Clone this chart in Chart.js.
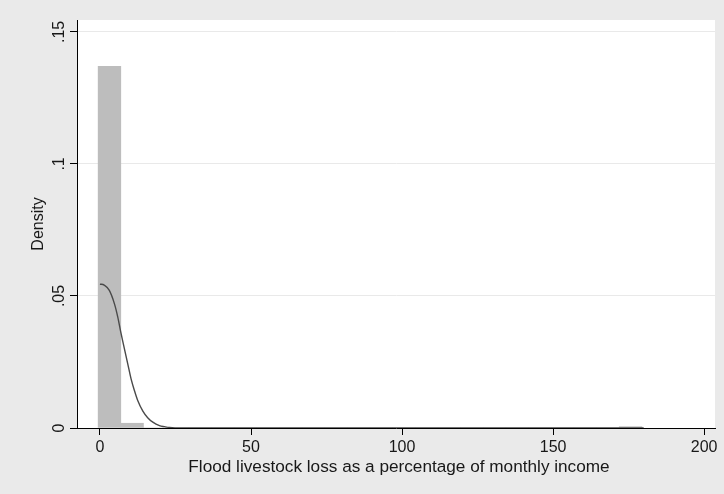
<!DOCTYPE html>
<html>
<head>
<meta charset="utf-8">
<script src="https://cdn.jsdelivr.net/npm/chart.js@4.4.1/dist/chart.umd.min.js"></script>
<style>
  html, body { margin: 0; padding: 0; background: #eaeaea; }
  #wrap { width: 724px; height: 494px; }
</style>
</head>
<body>
<div id="wrap"><canvas id="c" width="724" height="494"></canvas></div>
<script>
// ---- Data ----
const binCenters = [3.15, 10.65, 18.15, 25.65, 33.15, 40.65, 48.15, 55.65, 63.15, 70.65, 78.15, 85.65,
                    93.15, 100.65, 108.15, 115.65, 123.15, 130.65, 138.15, 145.65, 153.15, 160.65, 168.15, 175.65];
const binDensity = [0.137, 0.0018, 0, 0, 0, 0, 0, 0, 0, 0, 0, 0,
                    0, 0, 0, 0, 0, 0, 0, 0, 0, 0, 0, 0.0005];
const kdX = [0, 1.4, 3.1, 4.8, 5.9, 7.0, 8.1, 9.2, 10.3, 11.4, 12.5, 14.2, 15.8, 17.5, 19.7, 21.4, 23.0, 27, 40, 180];
const kdY = [0.0545, 0.0541, 0.0521, 0.0470, 0.0420, 0.0357, 0.0300, 0.0243, 0.0186, 0.0142, 0.0104, 0.0064,
             0.0039, 0.0022, 0.0009, 0.0005, 0.0002, 0, 0, 0];
const xTicks = [0, 50, 100, 150, 200];
const xTickLabels = ['0', '50', '100', '150', '200'];
const yTicks = [0, 0.05, 0.1, 0.15];
const yTickLabels = ['0', '.05', '.1', '.15'];
const xTitle = 'Flood livestock loss as a percentage of monthly income';
const yTitle = 'Density';

const TICK_FONT = '16px "Liberation Sans", Arial, sans-serif';
const TITLE_FONT = '17.2px "Liberation Sans", Arial, sans-serif';
const YTITLE_FONT = '16px "Liberation Sans", Arial, sans-serif';
const TEXT = '#181818';

const bgPlugin = {
  id: 'bg',
  beforeDraw(chart) {
    const { ctx, chartArea: a } = chart;
    ctx.save();
    ctx.fillStyle = '#eaeaea';
    ctx.fillRect(0, 0, chart.width, chart.height);
    ctx.fillStyle = '#ffffff';
    ctx.fillRect(a.left, a.top, a.right - a.left, a.bottom - a.top);
    ctx.restore();
  }
};

const textPlugin = {
  id: 'texts',
  afterDraw(chart) {
    const { ctx, chartArea: a } = chart;
    const xs = chart.scales.x, ys = chart.scales.y;
    ctx.save();
    ctx.fillStyle = TEXT;
    ctx.textAlign = 'center';
    ctx.textBaseline = 'alphabetic';
    // x tick labels
    ctx.font = TICK_FONT;
    xTicks.forEach((v, i) => {
      ctx.fillText(xTickLabels[i], xs.getPixelForValue(v), a.bottom + 24);
    });
    // x title
    ctx.font = TITLE_FONT;
    ctx.fillText(xTitle, (a.left + a.right) / 2 + 3, a.bottom + 44);
    // y tick labels (rotated)
    ctx.font = TICK_FONT;
    yTicks.forEach((v, i) => {
      ctx.save();
      ctx.translate(a.left - 13.5, ys.getPixelForValue(v));
      ctx.rotate(-Math.PI / 2);
      ctx.fillText(yTickLabels[i], 0, 0);
      ctx.restore();
    });
    // y title
    ctx.font = YTITLE_FONT;
    ctx.save();
    ctx.translate(a.left - 34.5, (a.top + a.bottom) / 2);
    ctx.rotate(-Math.PI / 2);
    ctx.fillText(yTitle, 0, 0);
    ctx.restore();
    ctx.restore();
  }
};

new Chart(document.getElementById('c'), {
  type: 'bar',
  data: {
    datasets: [
      {
        type: 'line',
        data: kdX.map((x, i) => ({ x: x, y: kdY[i] })),
        borderColor: '#4a4a4a',
        borderWidth: 1.4,
        pointRadius: 0,
        cubicInterpolationMode: 'monotone',
        fill: false,
        order: 0
      },
      {
        type: 'bar',
        data: binCenters.map((x, i) => ({ x: x, y: binDensity[i] })),
        backgroundColor: '#bdbdbd',
        borderWidth: 0,
        barPercentage: 1.0,
        categoryPercentage: 1.0,
        order: 1
      }
    ]
  },
  options: {
    responsive: false,
    animation: false,
    events: [],
    layout: { padding: { left: 0, right: 9, top: 20, bottom: 0 } },
    plugins: { legend: { display: false }, tooltip: { enabled: false }, title: { display: false } },
    scales: {
      x: {
        type: 'linear',
        offset: false,
        min: -7.6,
        max: 203.6,
        afterBuildTicks: (s) => { s.ticks = xTicks.map(v => ({ value: v })); },
        afterFit: (s) => { s.height = 66; },
        ticks: { display: false },
        grid: { offset: false, drawOnChartArea: false, drawTicks: true, tickLength: 7, tickColor: '#000', tickWidth: 1 },
        border: { display: true, color: '#000', width: 1 }
      },
      y: {
        type: 'linear',
        min: 0,
        max: 0.1545,
        afterBuildTicks: (s) => { s.ticks = yTicks.map(v => ({ value: v })); },
        afterFit: (s) => { s.width = 77; },
        ticks: { display: false },
        grid: {
          offset: false,
          color: (c) => (c.tick && c.tick.value === 0 ? 'rgba(0,0,0,0)' : '#e9e9e9'),
          lineWidth: 1,
          drawTicks: true,
          tickLength: 7,
          tickColor: '#000',
          tickWidth: 1
        },
        border: { display: true, color: '#000', width: 1 }
      }
    }
  },
  plugins: [bgPlugin, textPlugin]
});
</script>
</body>
</html>
